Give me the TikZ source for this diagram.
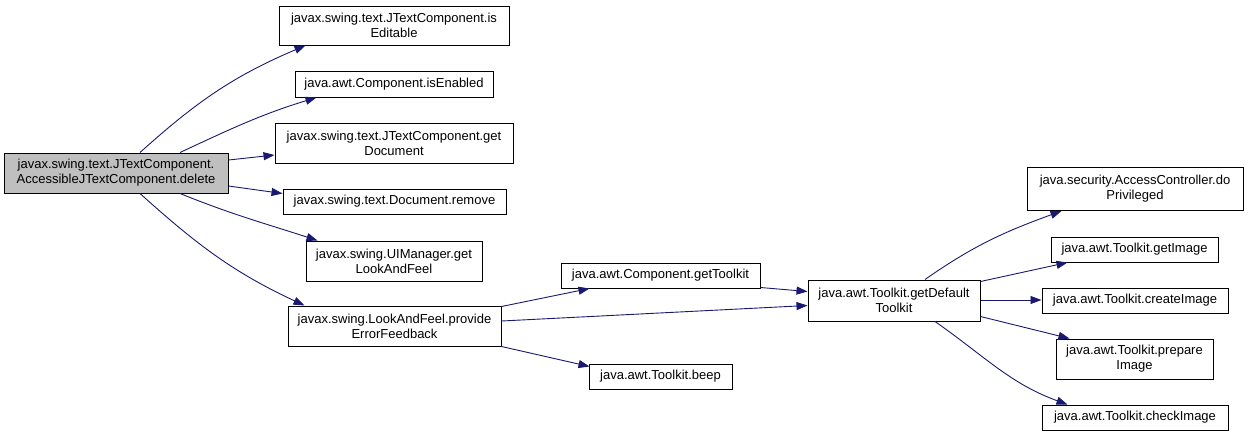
\documentclass[tikz,border=0pt]{standalone}
\usepackage{fontspec}
\setmainfont{Liberation Sans}
\usetikzlibrary{arrows.meta}
\definecolor{edgeblue}{RGB}{25,25,112}
\definecolor{rootgray}{RGB}{191,191,191}
\tikzset{
  fn/.style={draw=black, line width=1pt, fill=white, inner sep=0pt, align=center,
    font=\fontsize{13}{15}\selectfont},
  rootfn/.style={fn, fill=rootgray},
  call/.style={draw=edgeblue, line width=0.9pt, -{Triangle[length=11pt,width=8pt]}},
}
\begin{document}
\begin{tikzpicture}[x=1pt,y=-1pt]
\useasboundingbox (0,0) rectangle (1248,437);
\node[rootfn, minimum width=224pt, minimum height=40pt] (root) at (116,173) {javax.swing.text.JTextComponent.\\AccessibleJTextComponent.delete};
\node[fn, minimum width=230pt, minimum height=39pt] (edit) at (394,25.5) {javax.swing.text.JTextComponent.is\\Editable};
\node[fn, minimum width=198pt, minimum height=26pt] (enab) at (394,84) {java.awt.Component.isEnabled};
\node[fn, minimum width=238pt, minimum height=40pt] (gdoc) at (394,143) {javax.swing.text.JTextComponent.get\\Document};
\node[fn, minimum width=223pt, minimum height=25pt] (rem) at (394.5,201.5) {javax.swing.text.Document.remove};
\node[fn, minimum width=176pt, minimum height=40pt] (uim) at (394,261) {javax.swing.UIManager.get\\LookAndFeel};
\node[fn, minimum width=213pt, minimum height=40pt] (prov) at (394.5,326) {javax.swing.LookAndFeel.provide\\ErrorFeedback};
\node[fn, minimum width=199pt, minimum height=25pt] (gtk) at (660.5,275.5) {java.awt.Component.getToolkit};
\node[fn, minimum width=143pt, minimum height=25pt] (beep) at (660.5,376.5) {java.awt.Toolkit.beep};
\node[fn, minimum width=172pt, minimum height=41pt] (gdt) at (894,300.5) {java.awt.Toolkit.getDefault\\Toolkit};
\node[fn, minimum width=216pt, minimum height=43pt] (priv) at (1135,189) {java.security.AccessController.do\\Privileged};
\node[fn, minimum width=167pt, minimum height=25pt] (gimg) at (1134.5,249.5) {java.awt.Toolkit.getImage};
\node[fn, minimum width=186pt, minimum height=25pt] (cimg) at (1135,300.5) {java.awt.Toolkit.createImage};
\node[fn, minimum width=157pt, minimum height=40pt] (pimg) at (1134.5,359) {java.awt.Toolkit.prepare\\Image};
\node[fn, minimum width=186pt, minimum height=25pt] (chk) at (1135,417.5) {java.awt.Toolkit.checkImage};

\draw[call] ([xshift=24pt]root.north) to[out=42,in=203] ([xshift=27pt]edit.south west);
\draw[call] ([xshift=64pt]root.north) to[out=25,in=197] ([xshift=22pt]enab.south west);
\draw[call] ([yshift=13pt]root.east) -- ([yshift=-12pt]gdoc.west);
\draw[call] ([yshift=-13pt]root.east) -- ([yshift=8pt]rem.west);
\draw[call] ([xshift=64pt]root.south) to[out=-22,in=162] ([xshift=12pt]uim.north west);
\draw[call] ([xshift=24pt]root.south) to[out=-42,in=155] ([xshift=17pt]prov.north west);
\draw[call] ([yshift=-1pt]prov.north east) -- ([xshift=29pt]gtk.south west);
\draw[call] ([yshift=5pt]prov.east) -- ([yshift=-5pt]gdt.west);
\draw[call] (prov.south east) -- ([xshift=1pt,yshift=-3pt]beep.north west);
\draw[call] ([yshift=1pt]gtk.south east) -- ([yshift=-12pt]gdt.north west);
\draw[call] ([xshift=31pt]gdt.north) to[out=35,in=200] ([xshift=35pt]priv.south west);
\draw[call] ([yshift=-2pt]gdt.north east) -- ([xshift=17pt]gimg.south west);
\draw[call] ([yshift=0.5pt]gdt.east) -- ([yshift=0.5pt]cimg.west);
\draw[call] ([yshift=5pt]gdt.south east) -- ([xshift=14pt]pimg.north west);
\draw[call] ([xshift=41pt]gdt.south) to[out=-35,in=160] ([xshift=26pt]chk.north west);
\end{tikzpicture}
\end{document}
